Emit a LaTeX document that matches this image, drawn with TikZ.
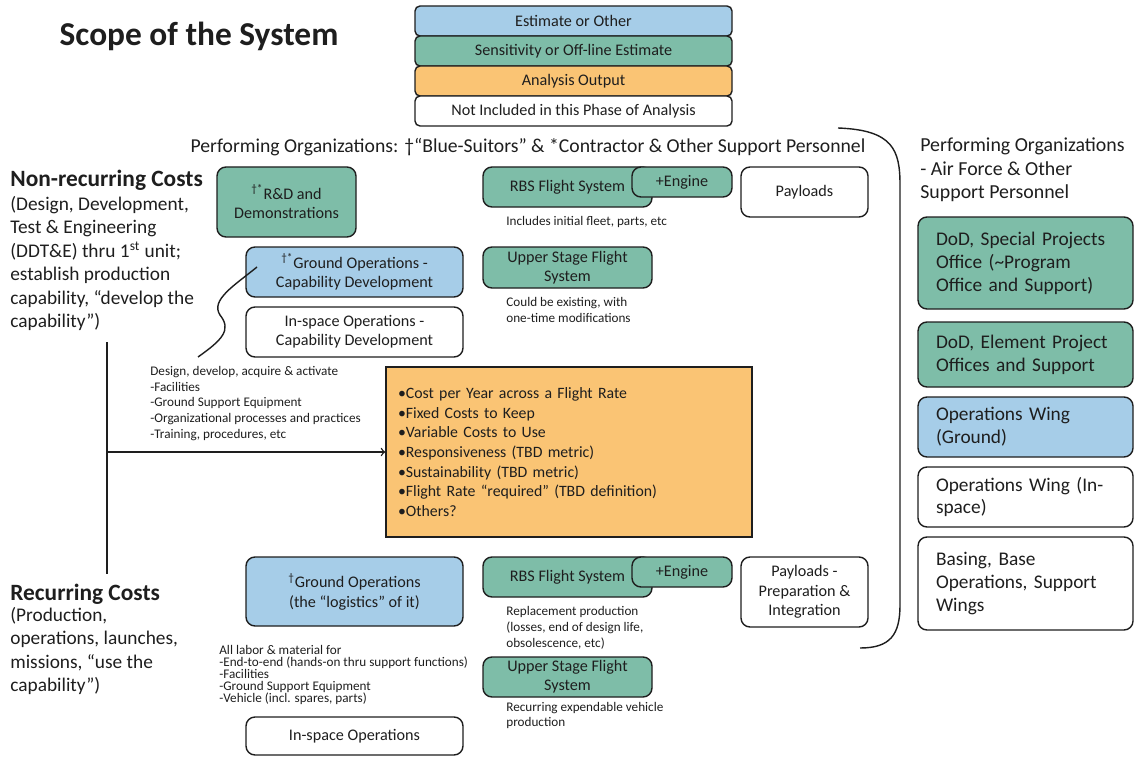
\documentclass[tikz,border=0pt]{standalone}
\usepackage{fontspec}
\setmainfont{Carlito}
\definecolor{estblue}{RGB}{166,205,232}
\definecolor{sensgreen}{RGB}{126,189,168}
\definecolor{outorange}{RGB}{250,196,116}
\definecolor{inkc}{RGB}{30,30,30}
\begin{document}
\begin{tikzpicture}[x=0.2mm, y=-0.2mm,
  box/.style={draw=inkc, line width=0.8pt, rounded corners=1.8mm, align=center, inner sep=1pt,
    text=inkc, font=\fontsize{9.2}{11}\selectfont},
  legbox/.style={box, rounded corners=1mm, minimum width=63.4mm, minimum height=6mm, font=\fontsize{9.2}{10}\selectfont},
  grnbox/.style={box, fill=sensgreen},
  blubox/.style={box, fill=estblue},
  nilbox/.style={box, fill=white},
  orgbox/.style={box, align=left, text width=35.8mm, inner xsep=3.6mm, minimum height=12mm,
    font=\fontsize{11}{13}\selectfont},
  outbox/.style={draw=inkc, line width=0.8pt, fill=outorange, align=left, text width=68.4mm,
    inner xsep=2.4mm, minimum height=34mm, text=inkc, font=\fontsize{9}{11.2}\selectfont},
  txt/.style={anchor=west, align=left, inner sep=0pt, text=inkc},
  note/.style={txt, font=\fontsize{7.5}{9}\selectfont},
  head/.style={txt, font=\bfseries\fontsize{13.3}{16}\selectfont},
  desc/.style={txt, font=\fontsize{11}{13.3}\selectfont},
  conn/.style={draw=inkc, line width=0.8pt}]
\useasboundingbox (0,0) rectangle (1135,756);

% title and legend
\node[inner sep=0pt, text=inkc, font=\bfseries\fontsize{19}{22}\selectfont] (title) at (199,36) {Scope of the System};
\node[legbox, fill=estblue] (lgest) at (573.5,21) {Estimate or Other};
\node[legbox, fill=sensgreen] (lgsens) at (573.5,51) {Sensitivity or Off-line Estimate};
\node[legbox, fill=outorange] (lgout) at (573.5,81) {Analysis Output};
\node[legbox, fill=white] (lgnil) at (573.5,111) {Not Included in this Phase of Analysis};

\node[inner sep=0pt, text=inkc, font=\fontsize{11.2}{13}\selectfont] (perf) at (528,147)
  {Performing Organizations: †“Blue-Suitors” \& *Contractor \& Other Support Personnel};

% left column
\node[head] (nrc) at (10,180) {Non-recurring Costs};
\node[desc] (nrcdesc) at (10,263.5) {(Design, Development,\\Test \& Engineering\\(DDT\&E) thru 1\textsuperscript{st} unit;\\establish production\\capability, “develop the\\capability”)};
\node[head] (rc) at (10,594) {Recurring Costs};
\node[desc] (rcdesc) at (10,651) {(Production,\\operations, launches,\\missions, “use the\\capability”)};

% non-recurring boxes
\node[grnbox, minimum width=27.8mm, minimum height=14mm] (rd) at (286.5,202) {\textsuperscript{†*}R\&D and\\Demonstrations};
\node[blubox, minimum width=43.4mm, minimum height=10mm] (gcap) at (354.5,272) {\textsuperscript{†*}Ground Operations -\\Capability Development};
\node[nilbox, minimum width=43.4mm, minimum height=10mm] (icap) at (354.5,332) {In-space Operations -\\Capability Development};
\node[grnbox, minimum width=33.8mm, minimum height=8mm] (rbs1) at (567.5,187) {RBS Flight System};
\node[grnbox, minimum width=20mm, minimum height=6mm] (eng1) at (682,182) {+Engine};
\node[nilbox, minimum width=25.4mm, minimum height=10mm] (pay1) at (804.5,192) {Payloads};
\node[note] (rbs1note) at (506,222) {Includes initial fleet, parts, etc};
\node[grnbox, minimum width=33.8mm, minimum height=8.2mm] (us1) at (567.5,267.5) {Upper Stage Flight\\System};
\node[note] (us1note) at (506,310) {Could be existing, with\\one-time modifications};
\node[note] (gcapnote) at (150,403.5) {Design, develop, acquire \& activate\\-Facilities\\-Ground Support Equipment\\-Organizational processes and practices\\-Training, procedures, etc};

% analysis output
\node[outbox] (out) at (569,452) {\textbullet Cost per Year across a Flight Rate\\\textbullet Fixed Costs to Keep\\\textbullet Variable Costs to Use\\\textbullet Responsiveness (TBD metric)\\\textbullet Sustainability (TBD metric)\\\textbullet Flight Rate “required” (TBD definition)\\\textbullet Others?};

% recurring boxes
\node[blubox, minimum width=43.4mm, minimum height=13.8mm] (gops) at (354.5,591.5) {\textsuperscript{†}Ground Operations\\(the “logistics” of it)};
\node[note, font=\fontsize{7.5}{6.8}\selectfont] (gopsnote) at (219,675) {All labor \& material for\\-End-to-end (hands-on thru support functions)\\-Facilities\\-Ground Support Equipment\\-Vehicle (incl. spares, parts)};
\node[nilbox, minimum width=43.4mm, minimum height=7.6mm] (iops) at (354.5,736) {In-space Operations};
\node[grnbox, minimum width=33.8mm, minimum height=8mm] (rbs2) at (567.5,577) {RBS Flight System};
\node[grnbox, minimum width=20mm, minimum height=6mm] (eng2) at (682,572) {+Engine};
\node[nilbox, minimum width=25.4mm, minimum height=14mm] (pay2) at (804.5,592) {Payloads -\\Preparation \&\\Integration};
\node[note] (rbs2note) at (506,628) {Replacement production\\(losses, end of design life,\\obsolescence, etc)};
\node[grnbox, minimum width=33.8mm, minimum height=8mm] (us2) at (567.5,677) {Upper Stage Flight\\System};
\node[note] (us2note) at (506,715.5) {Recurring expendable vehicle\\production};

% right column
\node[desc, font=\fontsize{11.3}{13.3}\selectfont] (afhead) at (920,170) {Performing Organizations\\- Air Force \& Other\\Support Personnel};
\node[orgbox, fill=sensgreen, minimum height=18.4mm] (dodspo) at (1025.5,263) {DoD, Special Projects\\Office (\textasciitilde Program\\Office and Support)};
\node[orgbox, fill=sensgreen, minimum height=13mm] (dodepo) at (1025.5,354.5) {DoD, Element Project\\Offices and Support};
\node[orgbox, fill=estblue] (owground) at (1025.5,427) {Operations Wing\\(Ground)};
\node[orgbox, fill=white] (owspace) at (1025.5,497) {Operations Wing (In-\\space)};
\node[orgbox, fill=white, minimum height=18.6mm] (basing) at (1025.5,583.5) {Basing, Base\\Operations, Support\\Wings};

% connectors
\coordinate (nrfoot) at (107,342);
\coordinate (rchead) at (107,574);
\coordinate (split) at (107,452);
\draw[conn] (nrfoot) -- (rchead);
\draw[conn, ->] (split) -- (out.west);
\coordinate (gtip) at (257,267);
\coordinate (wend) at (198,357);
\draw[conn] (gtip) .. controls (235,285) and (210,300) .. (220,315) .. controls (232,330) and (222,340) .. (wend);
\coordinate (brtop) at (838,128);
\coordinate (brbot) at (860,648);
\draw[conn] (brtop) .. controls (893,130) and (900,150) .. (900,185) -- (900,605) .. controls (900,635) and (890,648) .. (brbot);
\end{tikzpicture}
\end{document}
